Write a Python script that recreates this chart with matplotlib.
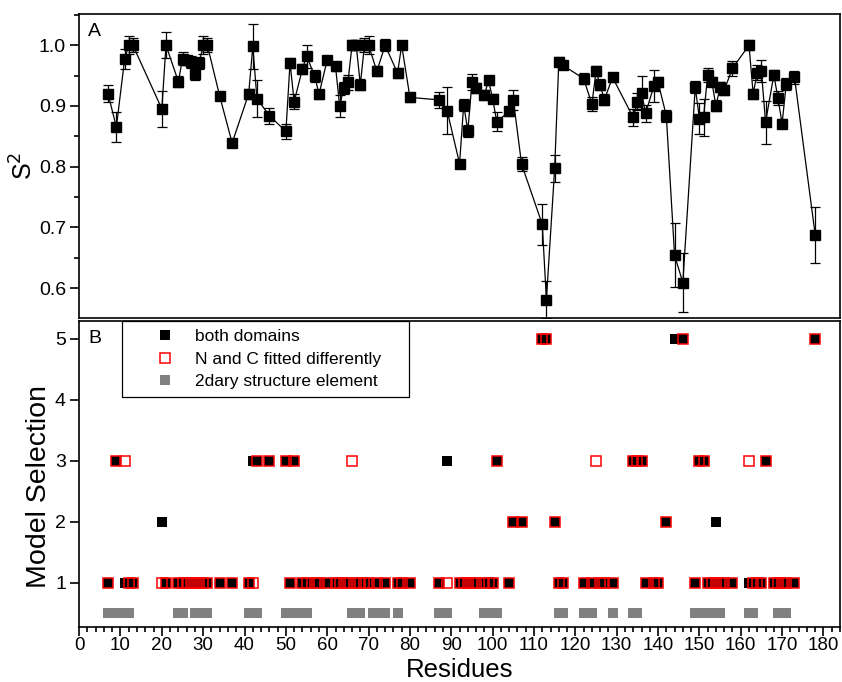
import numpy as np
import matplotlib.pyplot as plt
from matplotlib.ticker import MultipleLocator

plt.rcParams['font.family'] = ['Liberation Sans', 'DejaVu Sans']

# Panel A: order parameters
resid = [7, 9, 11, 12, 13, 20, 21, 24, 25, 26, 27, 28, 29, 30, 31, 34, 37, 41, 42, 43,
         46, 50, 51, 52, 54, 55, 57, 58, 60, 62, 63, 64, 65, 66, 67, 68, 69, 70, 72, 74,
         77, 78, 80, 87, 89, 92, 93, 94, 95, 96, 98, 99, 100, 101, 104, 105, 107, 112, 113, 115,
         116, 117, 122, 124, 125, 126, 127, 129, 134, 135, 136, 137, 139, 140, 142, 144, 146, 149, 150, 151,
         152, 153, 154, 155, 156, 158, 162, 163, 164, 165, 166, 168, 169, 170, 171, 173, 178]
s2 = [0.920, 0.865, 0.977, 1.0, 1.0, 0.895, 1.0, 0.940, 0.978, 0.975, 0.973, 0.952, 0.970, 1.0, 1.0, 0.916, 0.839, 0.920, 0.998, 0.912,
      0.884, 0.858, 0.971, 0.907, 0.961, 0.982, 0.949, 0.919, 0.976, 0.965, 0.900, 0.929, 0.939, 1.0, 1.0, 0.935, 1.0, 1.0, 0.957, 1.0,
      0.954, 1.0, 0.914, 0.910, 0.892, 0.805, 0.902, 0.859, 0.939, 0.929, 0.918, 0.942, 0.912, 0.874, 0.891, 0.910, 0.804, 0.705, 0.581, 0.797,
      0.973, 0.967, 0.945, 0.903, 0.957, 0.935, 0.910, 0.947, 0.881, 0.907, 0.922, 0.888, 0.933, 0.939, 0.884, 0.654, 0.609, 0.931, 0.879, 0.881,
      0.951, 0.940, 0.900, 0.931, 0.926, 0.962, 1.0, 0.920, 0.955, 0.957, 0.873, 0.951, 0.913, 0.871, 0.936, 0.947, 0.688]
s2err = [0.014, 0.025, 0.016, 0.015, 0.012, 0.029, 0.021, 0.009, 0.010, 0.008, 0.010, 0.009, 0.010, 0.015, 0.012, 0.006, 0.007, 0.008, 0.037, 0.031,
         0.013, 0.013, 0.008, 0.012, 0.008, 0.019, 0.010, 0.008, 0.006, 0.007, 0.018, 0.010, 0.012, 0.008, 0.008, 0.009, 0.012, 0.015, 0.008, 0.010,
         0.008, 0.006, 0.008, 0.013, 0.039, 0.003, 0.010, 0.010, 0.013, 0.008, 0.008, 0.008, 0.008, 0.016, 0.008, 0.016, 0.012, 0.034, 0.030, 0.022,
         0.008, 0.006, 0.009, 0.011, 0.008, 0.009, 0.009, 0.008, 0.014, 0.014, 0.027, 0.014, 0.026, 0.008, 0.010, 0.053, 0.049, 0.010, 0.026, 0.030,
         0.012, 0.008, 0.009, 0.008, 0.008, 0.012, 0.008, 0.008, 0.012, 0.018, 0.035, 0.008, 0.012, 0.008, 0.010, 0.011, 0.046]

# Panel B: selected model per residue (both domains / N and C separately)
bothModel = [1, 3, 1, 1, 1, 2, 1, 1, 1, 1, 1, 1, 1, 1, 1, 1, 1, 1, 3, 3,
             3, 3, 1, 3, 1, 1, 1, 1, 1, 1, 1, 1, 1, 1, 1, 1, 1, 1, 1, 1,
             1, 1, 1, 1, 3, 1, 1, 1, 1, 1, 1, 1, 1, 3, 1, 2, 2, 5, 5, 2,
             1, 1, 1, 1, 1, 1, 1, 1, 3, 3, 3, 1, 1, 1, 2, 5, 5, 1, 3, 3,
             1, 1, 2, 1, 1, 1, 1, 1, 1, 1, 3, 1, 1, 1, 1, 1, 5]
ncModel = [1, 3, 3, 1, 1, 1, 1, 1, 1, 1, 1, 1, 1, 1, 1, 1, 1, 1, 1, 3,
           3, 3, 1, 3, 1, 1, 1, 1, 1, 1, 1, 1, 1, 3, 1, 1, 1, 1, 1, 1,
           1, 1, 1, 1, 1, 1, 1, 1, 1, 1, 1, 1, 1, 3, 1, 2, 2, 5, 5, 2,
           1, 1, 1, 1, 3, 1, 1, 1, 3, 3, 3, 1, 1, 1, 2, None, 5, 1, 3, 3,
           1, 1, 1, 1, 1, 1, 3, 1, 1, 1, 3, 1, 1, 1, 1, 1, 5]

# Secondary structure elements
sseRes = [7, 8, 9, 10, 11, 12, 24, 25, 28, 29, 30, 31, 41, 42, 43, 50, 51, 52, 53, 54, 55,
          66, 67, 68, 71, 72, 73, 74, 77, 87, 88, 89, 98, 99, 100, 101, 116, 117,
          122, 123, 124, 129, 134, 135, 149, 150, 151, 152, 153, 154, 155, 162, 163, 169, 170, 171]
sseLevel = 0.5

fig = plt.figure(figsize=(8.42, 6.82), dpi=100)
axA = fig.add_axes([0.094, 0.534, 0.9036, 0.446])
axB = fig.add_axes([0.094, 0.081, 0.9036, 0.448])

# Panel A
axA.errorbar(resid, s2, yerr=s2err, fmt='-s', color='black', ms=7.5, lw=0.9,
             elinewidth=0.9, capsize=3.5, capthick=0.9)
axA.set_xlim(0, 184)
axA.set_ylim(0.551, 1.052)
axA.yaxis.set_major_locator(MultipleLocator(0.1))
axA.yaxis.set_minor_locator(MultipleLocator(0.05))
axA.set_xticks([])
axA.tick_params(axis='y', which='major', direction='out', length=6.5, width=1.2, labelsize=14, pad=3)
axA.tick_params(axis='y', which='minor', direction='out', length=3.5, width=1.2)
axA.set_ylabel('S$^2$', fontsize=18, labelpad=1)
axA.text(0.012, 0.97, 'A', transform=axA.transAxes, fontsize=14, va='top')

# Panel B
res = np.array(resid)
both = np.array(bothModel, dtype=float)
nc = np.array([np.nan if m is None else m for m in ncModel], dtype=float)
axB.plot(sseRes, [sseLevel] * len(sseRes), 's', color='#808080', ms=7.8, mew=0,
         label='2dary structure element')
axB.plot(res, both, 's', color='black', ms=7.5, mew=0, label='both domains')
axB.plot(res, nc, 's', mfc='none', mec='red', ms=7.2, mew=1.1,
         label='N and C fitted differently')
axB.set_xlim(0, 184)
axB.set_ylim(0.28, 5.29)
axB.xaxis.set_major_locator(MultipleLocator(10))
axB.xaxis.set_minor_locator(MultipleLocator(2))
axB.yaxis.set_major_locator(MultipleLocator(1))
axB.tick_params(axis='y', which='major', direction='out', length=6.5, width=1.2, labelsize=14, pad=3)
axB.tick_params(axis='x', which='major', direction='out', length=6.5, width=1.2, labelsize=13.5, pad=1)
axB.tick_params(axis='x', which='minor', direction='out', length=3.5, width=1.2)
axB.set_xlabel('Residues', fontsize=18.5, va='top')
axB.xaxis.set_label_coords(0.5, -0.1035)
axB.set_ylabel('Model Selection', fontsize=20.5)
axB.yaxis.set_label_coords(-0.036, 0.459)
axB.text(0.012, 0.97, 'B', transform=axB.transAxes, fontsize=14, va='top')

handles, labels = axB.get_legend_handles_labels()
order = [1, 2, 0]
leg = axB.legend([handles[i] for i in order], [labels[i] for i in order],
                 loc='upper left', bbox_to_anchor=(0.056, 0.0, 0.378, 1.0), mode='expand',
                 borderaxespad=0, fontsize=12.5, fancybox=False, edgecolor='black',
                 framealpha=1, handlelength=4.05, handletextpad=-0.3,
                 labelspacing=0.42, borderpad=0.45)
leg.get_frame().set_linewidth(0.9)

for ax in (axA, axB):
    for sp in ax.spines.values():
        sp.set_linewidth(1.2)

fig.savefig('out.png', dpi=100)
